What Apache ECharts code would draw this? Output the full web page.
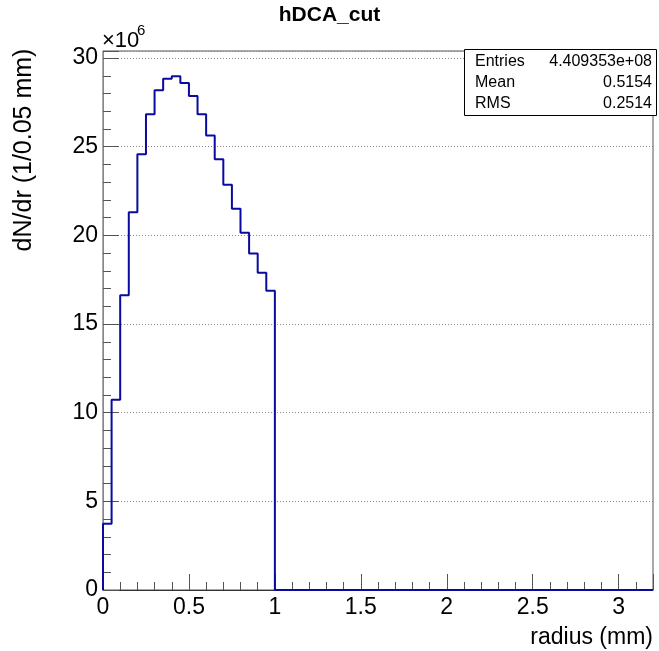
<!DOCTYPE html>
<html>
<head>
<meta charset="utf-8">
<script src="https://cdn.jsdelivr.net/npm/echarts@6/dist/echarts.min.js"></script>
<style>
  html, body { margin: 0; padding: 0; background: #fff; }
  #chart { width: 659px; height: 651px; }
</style>
</head>
<body>
<div id="chart"></div>
<script>
// ---- data (values in units of 1e6) ----
const binWidth = 0.05;
const binStarts = [0, 0.05, 0.1, 0.15, 0.2, 0.25, 0.3, 0.35, 0.4, 0.45,
                   0.5, 0.55, 0.6, 0.65, 0.7, 0.75, 0.8, 0.85, 0.9, 0.95];
const counts = [3.73, 10.73, 16.62, 21.3, 24.57, 26.83, 28.18, 28.83, 28.98, 28.6,
                27.86, 26.83, 25.64, 24.29, 22.85, 21.5, 20.15, 18.98, 17.9, 16.88];
const xRange = [0, 3.2];
const yRange = [0, 30.4];
const xMajor = 0.5, xMinor = 0.1;
const yMajor = 5, yMinor = 1;
const titleText = 'hDCA_cut';
const xTitle = 'radius (mm)';
const yTitle = 'dN/dr (1/0.05 mm)';
const statsNames = ['Entries', 'Mean', 'RMS'];
const statsValues = ['4.409353e+08', '0.5154', '0.2514'];

// histogram outline points (step at bin edges)
const histPts = [[binStarts[0], 0]];
binStarts.forEach((x, i) => histPts.push([x, counts[i]]));
histPts.push([binStarts[binStarts.length - 1] + binWidth, 0]);
histPts.push([xRange[1], 0]);

const FONT = 'Liberation Sans, Arial, Helvetica, sans-serif';
const isMult = (v, step) => Math.abs(v / step - Math.round(v / step)) < 1e-6;

const chart = echarts.init(document.getElementById('chart'), null, { renderer: 'canvas' });

const gridL = 103, gridT = 51, gridR = 6, gridB = 61;

const option = {
  animation: false,
  backgroundColor: '#ffffff',
  grid: {
    left: gridL, top: gridT, right: gridR, bottom: gridB,
    show: true, borderColor: '#555', borderWidth: 1, backgroundColor: 'transparent'
  },
  xAxis: [
    {
      type: 'value', min: xRange[0], max: xRange[1], interval: xMajor, position: 'bottom',
      axisLine: { show: true, lineStyle: { color: '#333', width: 1 } },
      axisTick: { show: true, inside: true, length: 16, lineStyle: { color: '#555' } },
      axisLabel: {
        show: true, margin: 6, fontSize: 23, color: '#000', fontFamily: FONT,
        formatter: v => isMult(v, xMajor) ? String(+v.toFixed(2)) : ''
      },
      splitLine: { show: false }
    },
    {
      type: 'value', min: xRange[0], max: xRange[1], interval: xMinor, position: 'bottom',
      axisLine: { show: false },
      axisTick: { show: true, inside: true, length: 8, lineStyle: { color: '#555' } },
      axisLabel: { show: false },
      splitLine: { show: false }
    }
  ],
  yAxis: [
    {
      type: 'value', min: yRange[0], max: yRange[1], interval: yMajor, position: 'left',
      axisLine: { show: true, lineStyle: { color: '#888', width: 1 } },
      axisTick: { show: true, inside: true, length: 16, lineStyle: { color: '#555' } },
      axisLabel: {
        show: true, margin: 5, fontSize: 23, color: '#000', fontFamily: FONT,
        formatter: v => isMult(v, yMajor) ? String(Math.round(v)) : ''
      },
      splitLine: { show: true, lineStyle: { color: '#888', type: [1, 2], width: 1 } }
    },
    {
      type: 'value', min: yRange[0], max: yRange[1], interval: yMinor, position: 'left',
      axisLine: { show: false },
      axisTick: { show: true, inside: true, length: 8, lineStyle: { color: '#555' } },
      axisLabel: { show: false },
      splitLine: { show: false }
    }
  ],
  series: [
    {
      type: 'line', xAxisIndex: 0, yAxisIndex: 0,
      data: histPts, step: 'end', symbol: 'none', clip: false,
      lineStyle: { color: '#0a0aa0', width: 2 }
    }
  ],
  graphic: [
    { type: 'text', left: 'center', top: 5, style: { text: titleText, font: 'bold 21px ' + FONT, fill: '#000' } },
    {
      type: 'text', x: 102, y: 41,
      style: { text: '×10', font: '22px ' + FONT, fill: '#000', textVerticalAlign: 'middle' }
    },
    {
      type: 'text', x: 137, y: 31,
      style: { text: '6', font: '15px ' + FONT, fill: '#000', textVerticalAlign: 'middle' }
    },
    {
      type: 'text', x: 24, y: 150, rotation: Math.PI / 2,
      style: { text: yTitle, font: '25px ' + FONT, fill: '#000', textAlign: 'center', textVerticalAlign: 'middle' }
    },
    {
      type: 'text', x: 653, y: 638,
      style: { text: xTitle, font: '23px ' + FONT, fill: '#000', textAlign: 'right', textVerticalAlign: 'middle' }
    },
    {
      type: 'rect', shape: { x: 464.5, y: 49.5, width: 192, height: 66 },
      style: { fill: '#fff', stroke: '#000', lineWidth: 1 }, z: 100
    },
    ...statsNames.map((n, i) => ({
      type: 'text', x: 475, y: 62 + i * 21, z: 101,
      style: { text: n, font: '16px ' + FONT, fill: '#000', textVerticalAlign: 'middle' }
    })),
    ...statsValues.map((v, i) => ({
      type: 'text', x: 652, y: 62 + i * 21, z: 101,
      style: { text: v, font: '16px ' + FONT, fill: '#000', textAlign: 'right', textVerticalAlign: 'middle' }
    }))
  ]
};
chart.setOption(option);
</script>
</body>
</html>
